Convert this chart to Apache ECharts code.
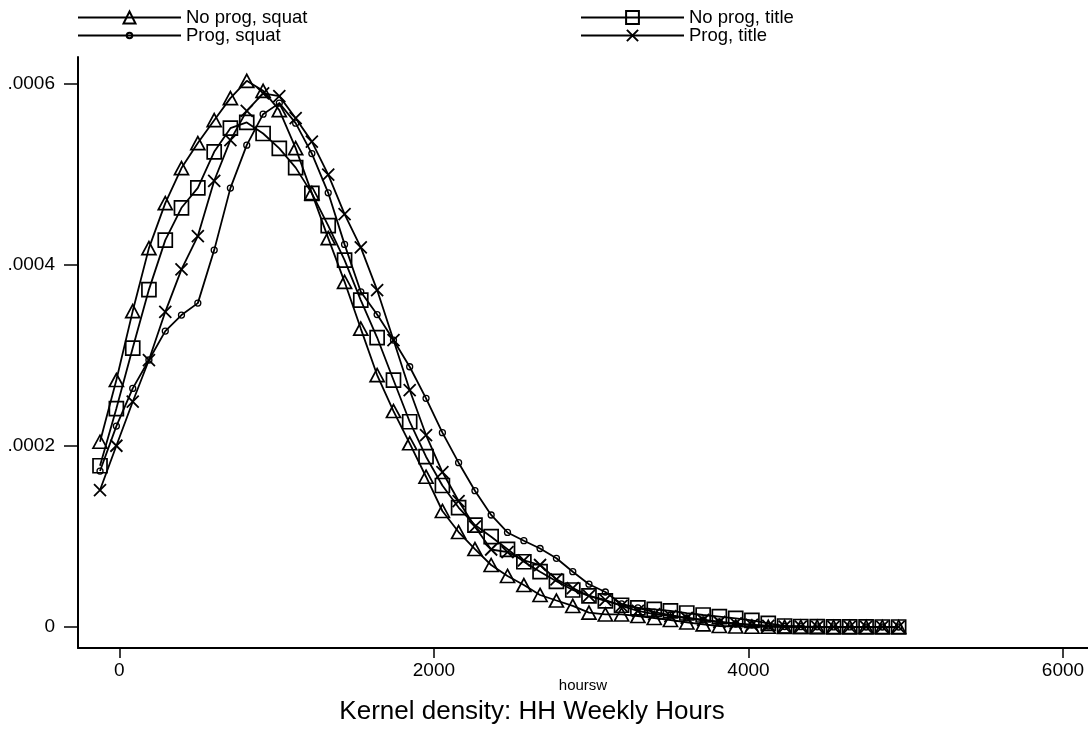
<!DOCTYPE html>
<html><head><meta charset="utf-8">
<script src="https://cdn.jsdelivr.net/npm/echarts@6/dist/echarts.min.js"></script>
<style>html,body{margin:0;padding:0;background:#fff}#c{width:1088px;height:729px}</style>
</head><body><div id="c"></div>
<script>
const hoursw = [-123,-19,85,188,292,395,499,603,706,810,914,1017,1121,1224,1328,1432,1535,1639,1743,1846,1950,2054,2157,2261,2364,2468,2572,2675,2779,2883,2986,3090,3193,3297,3401,3504,3608,3712,3815,3919,4022,4126,4230,4333,4437,4541,4644,4748,4851,4955];
const noProgSquat = [0.0002044,0.0002725,0.0003486,0.0004181,0.0004678,0.0005064,0.000534,0.0005593,0.0005836,0.0006027,0.0005916,0.0005704,0.0005284,0.0004788,0.0004291,0.0003809,0.0003293,0.000278,0.0002383,0.0002027,0.0001658,0.000128,0.0001048,0.000086,0.0000684,0.0000563,0.0000463,0.0000353,0.0000292,0.0000232,0.0000158,0.0000138,0.0000138,0.0000121,0.0000099,0.0000077,0.000005,0.0000028,0.0000011,0.0000005,0.0000003,0.0000002,0.0000001,0.0000001,0.0000001,0,0,0,0,0];
const progSquat = [0.0001721,0.0002217,0.0002633,0.0002946,0.0003265,0.0003442,0.0003574,0.0004159,0.0004843,0.0005317,0.0005659,0.0005781,0.000556,0.0005224,0.0004791,0.0004222,0.0003699,0.0003448,0.0003166,0.0002872,0.0002523,0.0002144,0.0001813,0.0001504,0.0001236,0.0001043,0.0000952,0.0000866,0.0000758,0.000061,0.0000472,0.0000386,0.0000254,0.000021,0.0000165,0.0000132,0.0000099,0.0000077,0.0000055,0.0000033,0.0000022,0.0000011,0.0000005,0.0000003,0.0000002,0.0000001,0.0000001,0,0,0];
const noProgTitle = [0.0001779,0.000241,0.0003078,0.0003723,0.0004269,0.0004626,0.0004846,0.0005244,0.0005505,0.0005568,0.0005446,0.0005281,0.0005069,0.0004785,0.0004429,0.0004049,0.0003607,0.0003194,0.0002725,0.0002265,0.0001879,0.0001561,0.0001318,0.0001125,0.0000996,0.0000857,0.000072,0.000061,0.0000504,0.0000408,0.0000344,0.0000287,0.000024,0.000021,0.0000195,0.0000177,0.0000154,0.0000132,0.0000114,0.0000096,0.0000072,0.0000039,0.0000011,0.0000005,0.0000003,0.0000002,0.0000001,0.0000001,0,0];
const progTitle = [0.0001511,0.0002,0.0002486,0.0002946,0.0003478,0.0003946,0.0004314,0.0004924,0.0005373,0.0005696,0.0005888,0.0005858,0.0005615,0.0005356,0.0004992,0.0004556,0.0004189,0.0003718,0.0003166,0.0002615,0.0002118,0.000171,0.000139,0.0001107,0.0000855,0.0000827,0.0000734,0.0000684,0.0000526,0.000043,0.0000342,0.0000298,0.0000232,0.0000177,0.0000143,0.0000121,0.0000099,0.0000077,0.0000055,0.0000039,0.0000022,0.0000011,0.0000005,0.0000003,0.0000002,0.0000001,0.0000001,0,0,0];
const seriesNames = ['No prog, squat','Prog, squat','No prog, title','Prog, title'];
const xTicks = [0,2000,4000,6000];
const xTickLabels = ['0','2000','4000','6000'];
const yTicks = [0,0.0002,0.0004,0.0006];
const yTickLabels = ['0','.0002','.0004','.0006'];
const xTitle = 'hoursw';
const chartTitle = 'Kernel density: HH Weekly Hours';

const FONT = 'Liberation Sans, Arial, sans-serif';
function pairs(ys){ return hoursw.map((x,i)=>[x, ys[i]]); }
function lbl(ticks, labels){ return v=>{const i=ticks.findIndex(t=>Math.abs(t-v)<1e-9);return i>=0?labels[i]:'';}; }
function mk(name, ys, symbol, size, bw){
  return {
    name, type:'line', data:pairs(ys), symbol, symbolSize:size, showAllSymbol:true,
    lineStyle:{color:'#000', width:1.8},
    itemStyle:{color:'rgba(0,0,0,0)', borderColor:'#000', borderWidth:bw},
    emphasis:{disabled:true}
  };
}
const chart = echarts.init(document.getElementById('c'), null, {renderer:'canvas'});
const legendText = {fontFamily:FONT, fontSize:18.5, color:'#000', lineHeight:17};
function leg(name, left, top, ih){
  return {data:[name], orient:'vertical', left, top, padding:0, itemWidth:103, itemHeight:ih, itemGap:5,
          textStyle:legendText, selectedMode:false};
}
chart.setOption({
  animation:false,
  backgroundColor:'#fff',
  grid:{left:78, top:57, width:1010, height:591, containLabel:false},
  legend:[
    leg(seriesNames[0], 77, 8, 15),
    leg(seriesNames[1], 77, 26, 7),
    leg(seriesNames[2], 580, 8, 16),
    leg(seriesNames[3], 580, 26, 14)
  ],
  xAxis:{
    type:'value', min:-263, max:6159,
    axisLine:{onZero:false, lineStyle:{color:'#000', width:2}},
    axisTick:{show:true, length:10, lineStyle:{color:'#000', width:1.5}, customValues:xTicks},
    axisLabel:{customValues:xTicks, color:'#000', fontFamily:FONT, fontSize:19, margin:13, formatter:lbl(xTicks, xTickLabels)},
    splitLine:{show:false},
    name:xTitle, nameLocation:'middle', nameGap:30, nameMoveOverlap:false,
    nameTextStyle:{fontFamily:FONT, fontSize:15, color:'#000'}
  },
  yAxis:{
    type:'value', min:-0.0000232, max:0.000629,
    axisLine:{onZero:false, lineStyle:{color:'#000', width:2}},
    axisTick:{show:true, length:14, lineStyle:{color:'#000', width:1.5}, customValues:yTicks},
    axisLabel:{customValues:yTicks, color:'#000', fontFamily:FONT, fontSize:19, margin:23, formatter:lbl(yTicks, yTickLabels)},
    splitLine:{show:false}
  },
  graphic:[{type:'text', x:532, y:712, style:{text:chartTitle, fontFamily:FONT, fontSize:26, fill:'#000', align:'center', verticalAlign:'middle'}}],
  series:[
    mk(seriesNames[0], noProgSquat, 'triangle', [14,13], 1.7),
    mk(seriesNames[1], progSquat, 'circle', 6, 1.3),
    mk(seriesNames[2], noProgTitle, 'rect', 14, 1.7),
    mk(seriesNames[3], progTitle, 'path://M0,0L10,10M0,10L10,0', 12, 1.8)
  ]
});
</script></body></html>
